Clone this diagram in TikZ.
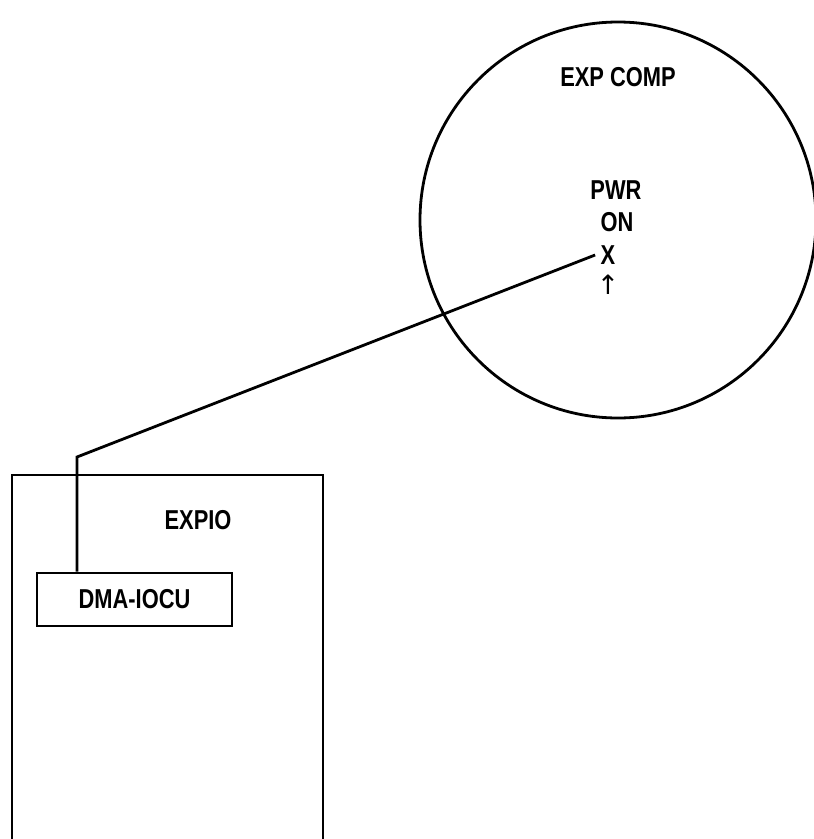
\documentclass[tikz,border=0pt]{standalone}
\usepackage{fontspec}
\setmainfont{Liberation Sans}[FakeStretch=0.8]
\newfontfamily\arrowfont{DejaVu Sans}
\usepackage{tikz}
\usetikzlibrary{positioning,calc}

\begin{document}
\begin{tikzpicture}[
  x=0.75pt, y=-0.75pt,
  font=\fontsize{20.5}{22}\selectfont\bfseries,
  wire/.style={line width=2.1pt, line join=miter},
  unit/.style={draw, line width=2.2pt, rectangle, inner sep=0pt},
  lbl/.style={inner sep=1pt},
]
\useasboundingbox (0,0) rectangle (814,839);

% expansion computer (circle)
\node[draw, circle, line width=2.1pt, minimum size=396*0.75pt, inner sep=0pt] (expcomp) at (618,220) {};
\node[lbl] (compname) at (618,77) {EXP COMP};
\node[lbl] (pwr) at (616,190) {PWR};
\node[lbl] (on) at (617,222) {ON};
\node[lbl, inner sep=4pt] (pwrx) at (608,255) {X};
\node[lbl, font=\arrowfont\fontsize{20}{22}\selectfont] (pwrarrow) at (608,285) {↑};

% EXPIO cabinet (open at the bottom)
\draw[line width=2.2pt] (12,842) -- (12,475) -- (323,475) -- (323,842);
\node[lbl] (expio) at (198,520) {EXPIO};

% DMA-IOCU board
\node[unit, minimum width=195*0.75pt, minimum height=53*0.75pt] (dma) at (134.5,599.5) {DMA-IOCU};

% cable
\coordinate (bend) at (77,457);
\draw[wire] (pwrx.west) -- (bend) -- (bend |- dma.north);
\end{tikzpicture}
\end{document}
